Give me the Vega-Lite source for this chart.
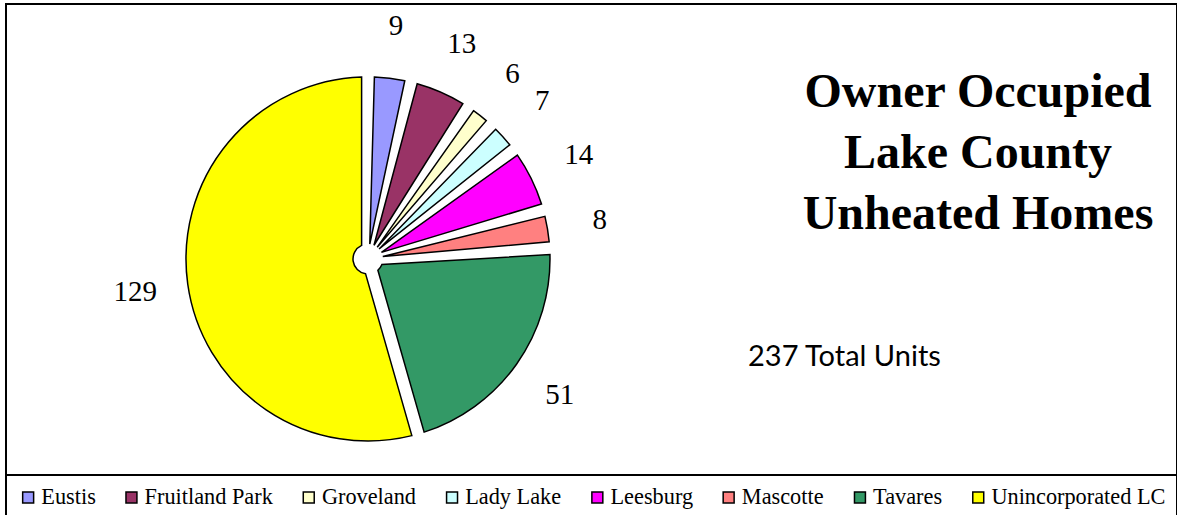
{
  "$schema": "https://vega.github.io/schema/vega-lite/v6.json",
  "autosize": {"type": "none"},
  "width": 1171,
  "height": 471,
  "padding": {"left": 6, "top": 4, "right": 0, "bottom": 40},
  "background": "white",
  "data": {
    "values": [
      {"city": "Eustis", "units": 9},
      {"city": "Fruitland Park", "units": 13},
      {"city": "Groveland", "units": 6},
      {"city": "Lady Lake", "units": 7},
      {"city": "Leesburg", "units": 14},
      {"city": "Mascotte", "units": 8},
      {"city": "Tavares", "units": 51},
      {"city": "Unincorporated LC", "units": 129}
    ]
  },
  "layer": [
    {
      "mark": {"type": "arc", "outerRadius": 182, "innerRadius": 15, "padAngle": 0.07, "stroke": "black", "strokeWidth": 1.5, "strokeJoin": "miter"},
      "encoding": {
        "x": {"value": 362},
        "y": {"value": 255},
        "theta": {"field": "units", "type": "quantitative", "stack": true},
        "order": {"field": "city", "sort": "ascending"},
        "color": {
          "field": "city",
          "type": "nominal",
          "scale": {
            "domain": ["Eustis", "Fruitland Park", "Groveland", "Lady Lake", "Leesburg", "Mascotte", "Tavares", "Unincorporated LC"],
            "range": ["#9999FF", "#993366", "#FFFFCC", "#CCFFFF", "#FF00FF", "#FF8080", "#339966", "#FFFF00"]
          },
          "legend": {
            "orient": "none",
            "legendX": 0,
            "legendY": 471,
            "direction": "horizontal",
            "columns": 8,
            "title": null,
            "symbolType": "square",
            "symbolSize": 120,
            "symbolStrokeColor": "black",
            "symbolStrokeWidth": 1.5,
            "symbolOpacity": 1,
            "labelFont": "Liberation Serif",
            "labelFontSize": 22.3,
            "labelLimit": 400,
            "labelColor": "black",
            "labelOffset": 2,
            "columnPadding": 24.3,
            "padding": 11,
            "strokeColor": "black"
          }
        }
      }
    },
    {
      "mark": {"type": "text", "radius": 235, "font": "Liberation Serif", "fontSize": 29, "color": "black", "align": "center", "baseline": "middle"},
      "encoding": {
        "x": {"value": 362},
        "y": {"value": 255},
        "theta": {"field": "units", "type": "quantitative", "stack": true},
        "order": {"field": "city", "sort": "ascending"},
        "detail": {"field": "city", "type": "nominal"},
        "text": {"field": "units", "type": "quantitative"}
      }
    },
    {
      "data": {"values": [{"title": ["Owner Occupied", "Lake County", "Unheated Homes"]}]},
      "mark": {"type": "text", "font": "Liberation Serif", "fontWeight": "bold", "fontSize": 48, "lineHeight": 61, "align": "center", "baseline": "alphabetic", "color": "black"},
      "encoding": {
        "x": {"value": 972},
        "y": {"value": 103},
        "text": {"field": "title"}
      }
    },
    {
      "data": {"values": [{"note": "237 Total Units"}]},
      "mark": {"type": "text", "font": "Lato", "fontSize": 29, "align": "left", "baseline": "alphabetic", "color": "black"},
      "encoding": {
        "x": {"value": 742},
        "y": {"value": 362},
        "text": {"field": "note"}
      }
    }
  ],
  "config": {
    "view": {"stroke": "black", "strokeWidth": 2},
    "legend": {"strokeWidth": 2}
  }
}
